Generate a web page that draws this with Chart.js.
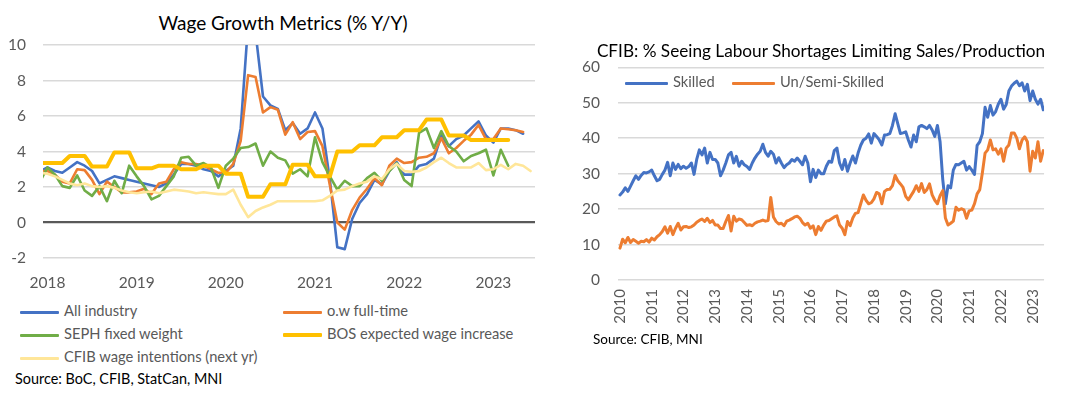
<!DOCTYPE html>
<html lang="en">
<head>
<meta charset="UTF-8">
<title>Wage growth and labour shortages</title>
<script src="https://cdn.jsdelivr.net/npm/chart.js"></script>
<style>
  body { margin: 0; width: 1065px; height: 394px; background: #fff; font-family: Lato, sans-serif; position: relative; overflow: hidden; }
  canvas { position: absolute; }
  .title { position: absolute; font-size: 17.2px; color: #000; white-space: nowrap; transform: translate(-50%, -50%); }
  .leg { position: absolute; font-size: 14.7px; color: #595959; white-space: nowrap; transform: translateY(-50%); }
  .leg i { display: inline-block; width: 39px; height: 3px; vertical-align: middle; margin-right: 5px; border-radius: 1px; }
  .src { position: absolute; font-size: 13.5px; color: #000; white-space: nowrap; transform: translateY(-50%); }
</style>
</head>
<body>
  <div class="title" style="left:283px; top:22px; font-size:19px">Wage Growth Metrics (% Y/Y)</div>
  <canvas id="wage" width="545" height="300" style="left:0; top:0"></canvas>

  <div class="leg" style="left:20px; top:310px"><i style="background:#4472C4"></i>All industry</div>
  <div class="leg" style="left:283px; top:310px"><i style="background:#ED7D31"></i>o.w full-time</div>
  <div class="leg" style="left:20px; top:333px"><i style="background:#70AD47"></i>SEPH fixed weight</div>
  <div class="leg" style="left:283px; top:333px"><i style="background:#FFC000; height:4px"></i>BOS expected wage increase</div>
  <div class="leg" style="left:20px; top:356px"><i style="background:#FFE699"></i>CFIB wage intentions (next yr)</div>
  <div class="src" style="left:15px; top:378px; font-size:14.4px">Source: BoC, CFIB, StatCan, MNI</div>

  <canvas id="cfib" width="500" height="300" style="left:560px; top:40px"></canvas>
  <div class="title" style="left:821px; top:50px">CFIB: % Seeing Labour Shortages Limiting Sales/Production</div>
  <div class="leg" style="left:625px; top:81px"><i style="background:#4472C4; width:43px"></i>Skilled</div>
  <div class="leg" style="left:732px; top:81px"><i style="background:#ED7D31; width:43px"></i>Un/Semi-Skilled</div>
  <div class="src" style="left:593px; top:339px">Source: CFIB, MNI</div>

  <script>
    // left chart: monthly, first value = Dec 2017 (x = -1), Jan 2018 = 0
    const wageYears = ['2018', '2019', '2020', '2021', '2022', '2023'];
    const allIndustry = [2.9, 3.1, 2.9, 2.8, 3.1, 3.4, 3.2, 2.9, 2.2, 2.4, 2.6, 2.5, 2.4, 2.3, 2.2, 2.1, 2.0, 2.2, 2.7, 3.3,
      3.3, 3.2, 3.0, 2.9, 2.6, 2.9, 3.2, 5.3, 11.2, 10.7, 7.1, 6.6, 6.4, 5.2, 5.6, 5.0, 5.3, 6.2, 5.3, 2.4,
      -1.4, -1.5, 0.2, 1.1, 1.6, 2.4, 2.15, 2.9, 3.4, 2.7, 2.7, 3.2, 3.3, 3.6, 4.9, 4.3, 4.7, 4.9, 5.3, 5.7,
      4.9, 4.5, 5.3, 5.3, 5.2, 5.0];
    const fullTime = [2.9, 2.9, 2.7, 2.3, 2.2, 3.0, 2.95, 2.4, 1.6, 2.3, 2.0, 1.7, 1.7, 1.75, 1.9, 1.6, 2.2, 2.3, 3.0, 3.4,
      3.3, 3.3, 3.2, 3.0, 2.8, 2.8, 3.3, 4.6, 8.3, 8.2, 6.2, 6.5, 6.35, 4.95, 5.65, 4.7, 5.1, 5.15, 4.3, 2.1,
      0.0, -0.4, 0.7, 1.4, 1.9, 2.5, 2.1, 3.2, 3.6, 3.35, 3.4, 3.65, 3.7, 3.9, 4.75, 3.9, 4.2, 4.6, 4.95, 5.5,
      4.7, 4.7, 5.3, 5.25, 5.2, 5.1];
    const sephFixed = [2.3, 3.1, 2.7, 2.05, 1.95, 2.65, 1.8, 1.5, 2.05, 1.2, 2.35, 1.65, 3.2, 2.6, 2.05, 1.3, 1.5, 2.05, 2.6, 3.65,
      3.7, 3.2, 3.35, 3.1, 1.95, 3.2, 3.6, 4.2, 4.25, 4.45, 3.2, 4.0, 3.65, 3.5, 2.75, 3.0, 2.6, 4.8, 3.4, 2.6,
      1.85, 2.35, 2.05, 2.05, 2.5, 2.8, 2.35, 2.9, 3.35, 2.4, 2.05, 5.05, 5.3, 4.2, 5.15, 4.3, 4.0, 3.45, 3.75, 3.9,
      4.1, 2.65, 4.1, 3.2];
    const bosExpected = [3.35, 3.35, 3.35, 3.35, 3.75, 3.75, 3.75, 3.15, 3.15, 3.15, 3.95, 3.95, 3.95, 3.05, 3.05, 3.05, 3.2, 3.2, 3.2, 3.0,
      3.0, 3.0, 3.2, 3.2, 3.2, 2.75, 2.75, 2.75, 1.45, 1.45, 1.45, 2.15, 2.15, 2.15, 3.25, 3.25, 3.25, 2.6, 2.6, 2.6,
      4.0, 4.0, 4.0, 4.35, 4.35, 4.35, 4.8, 4.8, 4.8, 5.2, 5.2, 5.2, 5.8, 5.8, 5.8, 4.9, 4.9, 4.9, 4.65, 4.65,
      4.65, 4.65, 4.65, 4.65];
    const cfibIntentions = [2.8, 2.75, 2.6, 2.4, 2.2, 2.1, 2.2, 2.05, 2.0, 2.05, 1.95, 1.8, 1.7, 1.65, 1.7, 1.75, 1.65, 1.75, 1.85, 1.8,
      1.75, 1.65, 1.7, 1.65, 1.6, 1.6, 1.85, 1.0, 0.3, 0.65, 0.85, 1.0, 1.2, 1.2, 1.2, 1.2, 1.2, 1.2, 1.25, 1.5,
      1.8, 1.85, 2.05, 2.2, 2.3, 2.6, 2.45, 3.0, 3.3, 2.9, 2.85, 2.9, 3.1, 3.4, 3.65, 3.35, 3.1, 3.1, 3.1, 3.35,
      2.95, 3.0, 3.25, 3.0, 3.3, 3.2, 2.9];

    // right chart: monthly from Jan 2010 (x = 0)
    const cfibYears = ['2010', '2011', '2012', '2013', '2014', '2015', '2016', '2017', '2018', '2019', '2020', '2021', '2022', '2023'];
    const skilled = [
      24.0, 24.8, 26.0, 25.0, 26.5, 28.0, 29.4, 28.4, 29.5, 30.3, 30.2, 30.5,
      31.0, 29.4, 28.0, 28.4, 29.8, 31.0, 33.2, 29.4, 33.0, 31.2, 32.6, 31.4,
      32.1, 31.5, 32.0, 33.0, 29.8, 34.0, 36.7, 35.3, 37.2, 33.0, 36.0, 34.0,
      34.0, 33.0, 29.4, 31.0, 33.0, 35.3, 36.0, 33.0, 34.9, 32.1, 33.5, 32.5,
      32.0, 31.2, 33.0, 34.4, 35.5, 36.3, 38.3, 36.0, 34.9, 36.3, 35.5, 33.0,
      34.5, 33.0, 31.7, 32.5, 33.0, 34.0, 33.5, 34.4, 33.5, 32.5, 34.9, 33.0,
      27.7, 31.2, 28.9, 31.0, 30.0, 30.0, 32.1, 33.5, 33.2, 36.5, 37.2, 33.0,
      31.2, 34.0, 30.7, 33.0, 35.0, 33.0, 35.8, 38.0, 39.5, 40.0, 41.2, 38.6,
      41.3, 40.5, 39.5, 38.1, 40.9, 41.0, 41.3, 43.6, 46.9, 44.1, 41.3, 41.5,
      41.8, 39.5, 37.5, 40.9, 39.0, 43.2, 43.6, 43.2, 42.7, 43.6, 42.3, 40.5,
      43.6, 39.0, 28.4, 21.5, 26.6, 26.0, 31.0, 32.6, 32.5, 33.0, 33.5, 31.0,
      32.0, 31.0, 29.8, 38.0, 39.0, 41.3, 48.7, 45.9, 49.2, 46.5, 47.5, 49.6,
      51.0, 48.2, 49.5, 53.3, 54.7, 55.5, 56.1, 54.8, 55.6, 53.3, 55.2, 50.6,
      53.3, 51.0, 49.6, 51.0, 48.0];
    const unSemiSkilled = [
      9.0, 11.5, 10.5, 12.0, 10.6, 11.4, 10.9, 10.4, 10.9, 10.8, 11.4, 10.7,
      11.8, 11.3, 12.2, 12.8, 13.7, 15.0, 13.2, 15.1, 12.8, 14.6, 16.0, 14.1,
      15.0, 15.1, 14.8, 15.0, 15.5, 16.3, 16.8, 17.2, 16.5, 17.4, 16.2, 16.8,
      15.5, 15.5, 14.5, 14.5, 16.5, 18.2, 13.8, 18.0, 16.6, 17.2, 17.0, 16.2,
      15.4, 15.6, 15.3, 16.0, 16.4, 16.6, 16.9, 16.6, 16.8, 23.3, 17.8, 16.5,
      15.8, 16.0, 15.3, 16.6, 16.9, 17.3, 17.8, 18.0, 17.4, 16.2, 15.5, 16.0,
      14.6, 15.3, 12.8, 15.1, 14.0, 15.5, 16.6, 16.8, 17.3, 17.8, 18.1, 15.5,
      14.6, 12.8, 16.5, 15.3, 17.5, 18.8, 19.0, 21.5, 24.0, 22.5, 21.5, 21.8,
      22.9, 24.7, 24.3, 21.5, 25.0, 25.5, 25.6, 26.6, 29.5, 28.0, 27.1, 26.1,
      23.6, 22.6, 23.8, 25.0, 26.6, 25.0, 27.2, 24.7, 25.5, 27.1, 24.0, 22.5,
      21.5, 23.8, 25.2, 17.5, 15.5, 16.0, 16.6, 20.5, 19.7, 20.1, 19.8, 17.4,
      19.5, 19.7, 21.5, 24.3, 25.5, 30.3, 35.8, 36.7, 39.5, 36.7, 37.0, 35.5,
      37.0, 33.5, 37.2, 38.1, 41.5, 41.5, 40.0, 37.0, 39.5, 40.4, 39.0, 30.7,
      36.3, 34.4, 39.0, 33.5, 36.5];

    const tickFont = { family: 'Lato', size: 15.5 };
    const grey = '#595959';

    function pts(values, firstX) {
      return values.map((v, i) => ({ x: firstX + i, y: v }));
    }

    function line(label, values, firstX, color, width, order) {
      return {
        label, data: pts(values, firstX), borderColor: color, backgroundColor: color,
        borderWidth: width, pointRadius: 0, tension: 0, fill: false, order,
        borderJoinStyle: 'round', borderCapStyle: 'round'
      };
    }

    new Chart(document.getElementById('wage'), {
      type: 'line',
      data: {
        datasets: [
          line('All industry', allIndustry, -1, '#4472C4', 2.6, 5),
          line('o.w full-time', fullTime, -1, '#ED7D31', 2.6, 4),
          line('SEPH fixed weight', sephFixed, -1, '#70AD47', 2.6, 3),
          line('BOS expected wage increase', bosExpected, -1, '#FFC000', 4, 2),
          line('CFIB wage intentions (next yr)', cfibIntentions, -1, '#FFE699', 2.6, 1)
        ]
      },
      options: {
        responsive: false,
        animation: false,
        layout: { padding: { top: 45, right: 10, left: 0, bottom: 0 } },
        plugins: { legend: { display: false }, tooltip: { enabled: false } },
        scales: {
          x: {
            type: 'linear', min: -0.6, max: 65.6,
            grid: { display: false, drawTicks: false },
            border: { display: false },
            ticks: { color: grey, font: tickFont, padding: 16, maxRotation: 0, autoSkip: false,
                     callback: (v, i) => wageYears[i] },
            afterBuildTicks: s => { s.ticks = wageYears.map((y, i) => ({ value: i * 12 })); },
            afterFit: s => { s.height = 42; }
          },
          y: {
            min: -2, max: 10,
            ticks: { stepSize: 2, color: grey, font: tickFont, padding: 17 },
            grid: {
              drawTicks: false,
              color: c => c.tick && c.tick.value === 0 ? grey : '#d9d9d9',
              lineWidth: c => c.tick && c.tick.value === 0 ? 2.2 : 1.5
            },
            border: { display: false },
            afterFit: s => { s.width = 43; }
          }
        }
      }
    });

    new Chart(document.getElementById('cfib'), {
      type: 'line',
      data: {
        datasets: [
          line('Skilled', skilled, 0, '#4472C4', 3, 2),
          line('Un/Semi-Skilled', unSemiSkilled, 0, '#ED7D31', 3, 1)
        ]
      },
      options: {
        responsive: false,
        animation: false,
        layout: { padding: { top: 22, right: 12, left: 0, bottom: 0 } },
        plugins: { legend: { display: false }, tooltip: { enabled: false } },
        scales: {
          x: {
            type: 'linear', min: -0.75, max: 160.3,
            grid: { display: false, drawTicks: false },
            border: { display: false },
            ticks: { color: grey, font: { family: 'Lato', size: 15 }, padding: 9, minRotation: 90, maxRotation: 90, autoSkip: false,
                     callback: (v, i) => cfibYears[i] },
            afterBuildTicks: s => { s.ticks = cfibYears.map((y, i) => ({ value: i * 12 })); },
            afterFit: s => { s.height = 60; }
          },
          y: {
            min: 0, max: 60,
            ticks: { stepSize: 10, color: grey, font: tickFont, padding: 18 },
            grid: { drawTicks: false, color: '#d9d9d9', lineWidth: 1.5 },
            border: { display: false },
            afterFit: s => { s.width = 58; }
          }
        }
      }
    });
  </script>
</body>
</html>
